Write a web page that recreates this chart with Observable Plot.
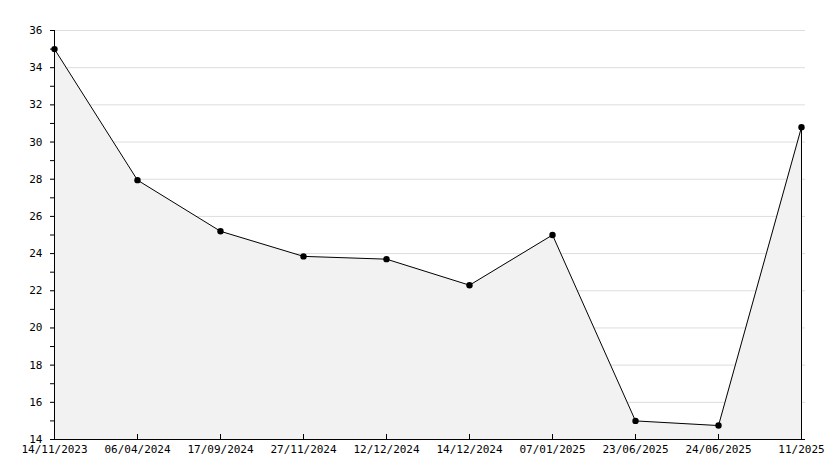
<!DOCTYPE html>
<html>
<head>
<meta charset="utf-8">
<script src="https://cdn.jsdelivr.net/npm/d3@7"></script>
<script src="https://cdn.jsdelivr.net/npm/@observablehq/plot@0.6"></script>
<style>
  html, body { margin: 0; padding: 0; background: #fff; }
  #chart svg { display: block; }
</style>
</head>
<body>
<div id="chart"></div>
<script>
const dates = ["14/11/2023", "06/04/2024", "17/09/2024", "27/11/2024", "12/12/2024", "14/12/2024", "07/01/2025", "23/06/2025", "24/06/2025", "11/2025"];
const values = [35.0, 27.95, 25.2, 23.85, 23.7, 22.3, 25.0, 15.0, 14.75, 30.8];
const yMajorTicks = [14, 16, 18, 20, 22, 24, 26, 28, 30, 32, 34, 36];
const yMinorTicks = [15, 17, 19, 21, 23, 25, 27, 29, 31, 33, 35];
const yDomain = [14, 36];

const data = dates.map((d, i) => ({date: d, value: values[i]}));
const last = data[data.length - 1];

const W = 834, H = 468, ML = 50, MR = 29, MT = 30, MB = 29;

const chart = Plot.plot({
  width: W,
  height: H,
  marginLeft: ML,
  marginRight: MR,
  marginTop: MT,
  marginBottom: MB,
  style: {fontFamily: "'DejaVu Sans Mono', monospace", fontSize: "11px", color: "#000", background: "#fff"},
  x: {type: "point", domain: dates, padding: 0, range: [ML, W - MR]},
  y: {domain: yDomain, range: [H - MB, MT]},
  marks: [
    Plot.gridY(yMajorTicks, {stroke: "#dddddd", strokeOpacity: 1}),
    Plot.areaY(data, {x: "date", y1: yDomain[0], y2: "value", fill: "#f2f2f2"}),
    Plot.line(data, {x: "date", y: "value", stroke: "#000", strokeWidth: 1}),
    Plot.ruleX([last], {x: "date", y1: yDomain[0], y2: "value", stroke: "#000"}),
    Plot.ruleX([dates[0]], {y1: yDomain[0], y2: yDomain[1], stroke: "#000"}),
    Plot.ruleY([yDomain[0]], {stroke: "#000"}),
    Plot.dot(data, {x: "date", y: "value", r: 3.2, fill: "#000", stroke: "none"}),
    Plot.axisY(yMajorTicks, {tickSize: 0, tickPadding: 8, label: null, fill: "#000"}),
    Plot.axisY(yMajorTicks.concat(yMinorTicks), {tickSize: -5, tickFormat: () => "", label: null, stroke: "#000"}),
    Plot.axisX(dates, {tickSize: 0, tickPadding: 6, label: null, fill: "#000"}),
    Plot.axisX(dates, {tickSize: -5, tickFormat: () => "", label: null, stroke: "#000"})
  ]
});
document.getElementById("chart").appendChild(chart);
</script>
</body>
</html>
